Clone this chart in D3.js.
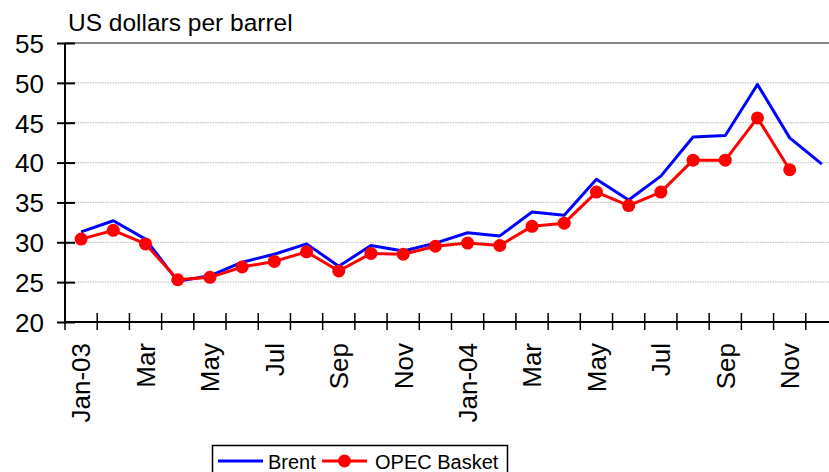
<!DOCTYPE html>
<html><head><meta charset="utf-8">
<script src="https://cdn.jsdelivr.net/npm/d3@7/dist/d3.min.js"></script>
<style>
html,body{margin:0;padding:0;background:#fff;}
text{font-family:"Liberation Sans",Arial,sans-serif;fill:#000;}
</style></head>
<body>
<svg id="chart" width="829" height="472"></svg>
<script>
const months = ["2003-01","2003-02","2003-03","2003-04","2003-05","2003-06","2003-07","2003-08","2003-09","2003-10","2003-11","2003-12",
                "2004-01","2004-02","2004-03","2004-04","2004-05","2004-06","2004-07","2004-08","2004-09","2004-10","2004-11","2004-12"];
const monthLabels = ["Jan-03","","Mar","","May","","Jul","","Sep","","Nov","",
                     "Jan-04","","Mar","","May","","Jul","","Sep","","Nov",""];
const brent = [31.3,32.7,30.4,25.1,25.8,27.5,28.5,29.8,27.0,29.6,28.9,29.9,
               31.2,30.8,33.8,33.4,37.9,35.3,38.3,43.2,43.4,49.8,43.1,39.8];
const opec  = [30.4,31.5,29.8,25.3,25.6,26.9,27.6,28.8,26.4,28.6,28.5,29.5,
               29.9,29.6,32.0,32.4,36.3,34.6,36.3,40.3,40.3,45.6,39.1,null];
const yTicks = [20,25,30,35,40,45,50,55];
const seriesNames = ["Brent","OPEC Basket"];
const seriesColors = ["#0000ff","#ff0000"];

(function(){
const svg = d3.select("#chart");
const pL = 65, pR = 838, pT = 43, pB = 322;

const x = d3.scaleBand().domain(months).range([pL, pR]).paddingInner(0).paddingOuter(0);
const y = d3.scaleLinear().domain([20,55]).range([pB, pT]);
const cx = d => x(d) + x.bandwidth()/2;

// gridlines
svg.append("g").selectAll("line").data(yTicks.filter(v => v > 20 && v < 55)).join("line")
  .attr("x1", pL).attr("x2", 829).attr("y1", d => y(d)).attr("y2", d => y(d))
  .attr("stroke", "#c4c4c4").attr("stroke-width", 1.2).attr("stroke-dasharray", "1.5,1");
// top border
svg.append("line").attr("x1", pL).attr("x2", 829).attr("y1", y(55)).attr("y2", y(55))
  .attr("stroke", "#888").attr("stroke-width", 2);

// y axis
const yAxis = d3.axisLeft(y).tickValues(yTicks).tickSize(0).tickPadding(0).tickFormat(d3.format("d"));
const gy = svg.append("g").attr("transform", `translate(${pL},0)`).call(yAxis);
gy.select(".domain").remove();
gy.selectAll(".tick text").attr("x", -21).attr("dy", "0.36em").style("font-size", "26px").style("font-family", '"Liberation Sans",Arial,sans-serif').attr("fill", "#000");
gy.selectAll(".tick").append("line").attr("x1", -8).attr("x2", 10).attr("stroke", "#000").attr("stroke-width", 2);
svg.append("line").attr("x1", pL).attr("x2", pL).attr("y1", y(55)).attr("y2", y(20)).attr("stroke", "#000").attr("stroke-width", 2);

// x axis
svg.append("line").attr("x1", pL).attr("x2", 829).attr("y1", pB).attr("y2", pB).attr("stroke", "#000").attr("stroke-width", 2);
svg.append("g").selectAll("line").data(months).join("line")
  .attr("x1", d => x(d)).attr("x2", d => x(d)).attr("y1", pB - 9).attr("y2", pB + 8)
  .attr("stroke", "#000").attr("stroke-width", 1.5);
svg.append("g").selectAll("text").data(months.filter((m,i) => monthLabels[i])).join("text")
  .attr("transform", d => `translate(${cx(d)},343) rotate(-90)`)
  .attr("text-anchor", "end").attr("dy", "0.36em")
  .style("font-size", "26px")
  .text(d => monthLabels[months.indexOf(d)]);

// title
svg.append("text").attr("x", 68).attr("y", 31).style("font-size", "24.5px").text("US dollars per barrel");

// lines
const lineGen = d3.line().defined(d => d.v != null).x(d => cx(d.m)).y(d => y(d.v));
const brentData = months.map((m,i) => ({m, v: brent[i]}));
const opecData = months.map((m,i) => ({m, v: opec[i]}));
svg.append("path").datum(brentData).attr("d", lineGen).attr("fill", "none")
  .attr("stroke", seriesColors[0]).attr("stroke-width", 3).attr("stroke-linejoin", "round");
svg.append("path").datum(opecData).attr("d", lineGen).attr("fill", "none")
  .attr("stroke", seriesColors[1]).attr("stroke-width", 3).attr("stroke-linejoin", "round");
svg.append("g").selectAll("circle").data(opecData.filter(d => d.v != null)).join("circle")
  .attr("cx", d => cx(d.m)).attr("cy", d => y(d.v)).attr("r", 6.5).attr("fill", seriesColors[1]);

// legend
const lg = svg.append("g");
lg.append("rect").attr("x", 212.5).attr("y", 445.5).attr("width", 295).attr("height", 40)
  .attr("fill", "#fff").attr("stroke", "#000").attr("stroke-width", 1.5);
lg.append("line").attr("x1", 218).attr("x2", 263).attr("y1", 461).attr("y2", 461).attr("stroke", seriesColors[0]).attr("stroke-width", 3);
lg.append("text").attr("x", 268).attr("y", 469).style("font-size", "20px").text(seriesNames[0]);
lg.append("line").attr("x1", 322).attr("x2", 367).attr("y1", 461).attr("y2", 461).attr("stroke", seriesColors[1]).attr("stroke-width", 3);
lg.append("circle").attr("cx", 344.5).attr("cy", 461).attr("r", 6.5).attr("fill", seriesColors[1]);
lg.append("text").attr("x", 375).attr("y", 469).style("font-size", "20px").text(seriesNames[1]);
})();
</script>
</body></html>
